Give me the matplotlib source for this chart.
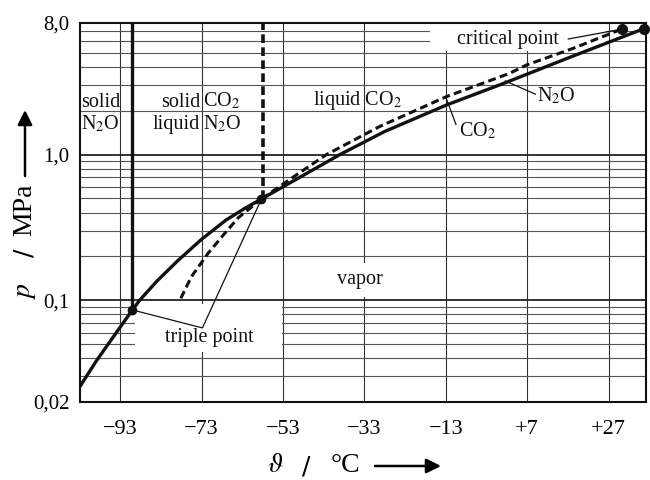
import matplotlib
matplotlib.use('Agg')
import matplotlib.pyplot as plt
from matplotlib.patches import Rectangle
from matplotlib.ticker import FixedLocator, NullFormatter

plt.rcParams['font.family'] = ['Liberation Serif', 'DejaVu Serif']
plt.rcParams['mathtext.fontset'] = 'stix'

# ---------------- data ----------------
# N2O vapour-pressure curve (solid)
n2o_T = [-103.0, -98.8, -94.5, -90.0, -88.2, -84.0, -79.0, -73.0, -67.0, -62.5, -58.3,
         -39.0, -28.0, -12.8, 1.5, 17.9, 35.6]
n2o_p = [0.0253, 0.0385, 0.057, 0.0857, 0.100, 0.135, 0.185, 0.262, 0.355, 0.425, 0.495,
         1.00, 1.44, 2.19, 3.10, 4.70, 7.30]
# CO2 vapour-pressure curve (dashed)
co2_vap_T = [-58.3, -50.5, -42.3, -29.2, -12.8, 2.7, 6.85, 18.3, 30.2]
co2_vap_p = [0.495, 0.70, 1.00, 1.56, 2.50, 3.61, 4.12, 5.36, 7.26]
# CO2 sublimation curve (dashed)
co2_sub_T = [-78.1, -75.5, -71.4, -67.3, -64.0, -58.3]
co2_sub_p = [0.103, 0.145, 0.210, 0.288, 0.368, 0.495]
# special points
n2o_triple = (-90.0, 0.0857)
co2_triple = (-58.3, 0.495)
n2o_crit = (35.6, 7.30)
co2_crit = (30.2, 7.26)
# melting lines (vertical, up to top of chart)
n2o_melt_T = -90.0
co2_melt_T = -58.0
p_top = 8.0

x_ticks = [-93, -73, -53, -33, -13, 7, 27]
x_ticklabels = ['\u221293', '\u221273', '\u221253', '\u221233', '\u221213', '+7', '+27']
y_ticks = [0.02, 0.1, 1.0, 8.0]
y_ticklabels = ['0,02', '0,1', '1,0', '8,0']
y_minor = [0.03, 0.04, 0.05, 0.06, 0.07, 0.08, 0.09,
           0.2, 0.3, 0.4, 0.5, 0.6, 0.7, 0.8, 0.9,
           2, 3, 4, 5, 6, 7]
x_lim = (-103.0, 36.2)
y_lim = (0.02, 8.0)

# ---------------- figure ----------------
W, H = 650, 480
fig = plt.figure(figsize=(W / 100, H / 100), dpi=100)
L, R, T, B = 79.5, 646, 23, 402
ax = fig.add_axes([L / W, 1 - B / H, (R - L) / W, (B - T) / H])
ax.set_yscale('log')
ax.set_xlim(*x_lim)
ax.set_ylim(*y_lim)

ax.set_xticks(x_ticks)
ax.set_xticklabels(x_ticklabels, fontsize=16)
ax.set_yticks(y_ticks)
ax.set_yticklabels(y_ticklabels, fontsize=15)
ax.yaxis.set_minor_locator(FixedLocator(y_minor))
ax.yaxis.set_minor_formatter(NullFormatter())
ax.xaxis.set_minor_locator(FixedLocator([]))
ax.tick_params(axis='both', which='both', length=0)
ax.tick_params(axis='x', pad=13)
ax.tick_params(axis='y', pad=7)

ax.set_axisbelow(True)
ax.grid(True, axis='x', which='major', color='#333333', lw=0.8)
ax.grid(True, axis='y', which='minor', color='#555555', lw=0.8)
ax.grid(True, axis='y', which='major', color='#222222', lw=1.3)
for s in ax.spines.values():
    s.set_linewidth(1.5)
    s.set_color('#111111')

# white masks behind labels (in axes-fraction coordinates)
def px2ax(x, y):
    return (x - L) / (R - L), (B - y) / (B - T)

for (x0, y0, x1, y1) in [(430, 23, 606, 51), (135, 304, 282, 352), (338, 263, 382, 297)]:
    ax0, ay1 = px2ax(x0, y0)
    ax1, ay0 = px2ax(x1, y1)
    ax.add_patch(Rectangle((ax0, ay0), ax1 - ax0, ay1 - ay0, transform=ax.transAxes,
                           facecolor='white', edgecolor='none', zorder=1))

# ---------------- curves ----------------
ax.plot(n2o_T, n2o_p, color='#111111', lw=2.4, zorder=4, solid_joinstyle='round')
ax.plot(co2_vap_T, co2_vap_p, color='#111111', lw=2.2, ls=(0, (2.6, 1.4)), zorder=4)
ax.plot(co2_sub_T, co2_sub_p, color='#111111', lw=2.2, ls=(0, (2.6, 1.4)), zorder=4)
ax.plot([n2o_melt_T, n2o_melt_T], [n2o_triple[1], p_top], color='#111111', lw=2.4, zorder=4)
ax.plot([co2_melt_T, co2_melt_T], [co2_triple[1], p_top], color='#111111', lw=2.6,
        ls=(0, (2.4, 1.2)), zorder=4)

for pt in (n2o_triple, co2_triple):
    ax.plot(*pt, 'o', color='#111111', ms=6, zorder=5)
for pt in (n2o_crit, co2_crit):
    ax.plot(*pt, 'o', color='#111111', ms=7, zorder=5, clip_on=False)

# ---------------- leader lines ----------------
lk = dict(color='#111111', lw=0.9, zorder=3)
ax.plot([n2o_triple[0], -72.8, co2_triple[0]], [n2o_triple[1], 0.0645, co2_triple[1]], **lk)
ax.plot([17.1, co2_crit[0]], [6.21, co2_crit[1]], **lk)
ax.plot([1.6, 9.0], [3.2, 2.6], **lk)
ax.plot([-13.05, -10.5], [2.50, 1.61], **lk)

# ---------------- labels ----------------
fs = 14.5
tk = dict(fontsize=fs, va='baseline', zorder=6, color='#111111')
ax.text(-71.2, 0.0515, 'triple point', ha='center', **tk)
ax.text(2.3, 5.74, 'critical point', ha='center', **tk)
ax.text(-34.2, 0.1295, 'vapor', ha='center', **tk)
ax.text(-34.7, 2.19, 'liquid CO$_2$', ha='center', **tk)
ax.text(9.3, 2.31, 'N$_2$O', ha='left', **tk)
ax.text(-9.7, 1.328, 'CO$_2$', ha='left', **tk)
ax.text(-102.7, 2.13, 'solid', ha='left', **tk)
ax.text(-102.7, 1.49, 'N$_2$O', ha='left', **tk)
ax.text(-73.4, 2.13, 'solid', ha='right', **tk)
ax.text(-73.4, 1.49, 'liquid', ha='right', **tk)
ax.text(-72.7, 2.13, 'CO$_2$', ha='left', **tk)
ax.text(-72.7, 1.49, 'N$_2$O', ha='left', **tk)

# axis titles with arrows (figure pixels)
afs = 20
fig.text(275 / W, 1 - 466 / H, r'$\vartheta$', fontsize=afs, ha='center', va='center')
fig.text(306 / W, 1 - 466 / H, '/', fontsize=afs - 2, ha='center', va='center',
         family='DejaVu Sans')
fig.text(345 / W, 1 - 466 / H, '°C', fontsize=afs, ha='center', va='center')
ax.annotate('', xy=(441, H - 466), xytext=(375, H - 466), xycoords='figure pixels',
            textcoords='figure pixels',
            arrowprops=dict(arrowstyle='-|>', color='black', lw=1.8, mutation_scale=22,
                            shrinkA=0, shrinkB=0))
fig.text(25 / W, 1 - 291 / H, r'$p$', fontsize=afs, ha='center', va='center', rotation=90)
fig.text(25 / W, 1 - 253 / H, '/', fontsize=afs - 2, ha='center', va='center', rotation=90,
         family='DejaVu Sans')
fig.text(25 / W, 1 - 210 / H, 'MPa', fontsize=afs, ha='center', va='center', rotation=90)
ax.annotate('', xy=(25, H - 110), xytext=(25, H - 176), xycoords='figure pixels',
            textcoords='figure pixels',
            arrowprops=dict(arrowstyle='-|>', color='black', lw=1.8, mutation_scale=22,
                            shrinkA=0, shrinkB=0))

fig.savefig('out.png', dpi=100)
